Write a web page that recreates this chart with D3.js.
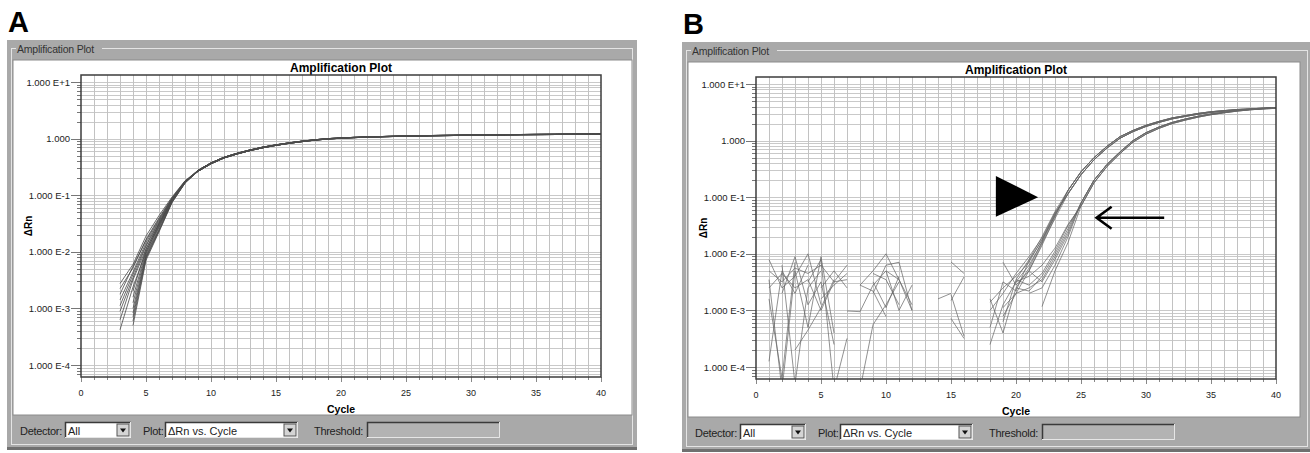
<!DOCTYPE html>
<html>
<head>
<meta charset="utf-8">
<script src="https://cdn.jsdelivr.net/npm/d3@7"></script>
<style>
body { margin: 0; background: #fff; }
svg { display: block; }
text { font-family: "Liberation Sans", Arial, sans-serif; }
</style>
</head>
<body>
<script>
const width = 1310, height = 453;

// axes
const cycleLimits = [0, 40];
const yLimits = [6.15e-5, 13.3];
const cycleTicks = [0, 5, 10, 15, 20, 25, 30, 35, 40];
const decadeTicks = [1e-4, 1e-3, 1e-2, 1e-1, 1, 10];
const decadeLabels = ["1.000 E-4", "1.000 E-3", "1.000 E-2", "1.000 E-1", "1.000", "1.000 E+1"];

// panel A : early part of each curve (curves starting at cycle 3, cycles 3..8)
const aEarly3 = [
  [0.00275, 0.0060, 0.0190, 0.0437, 0.093, 0.180],
  [0.00224, 0.0052, 0.0166, 0.0398, 0.090, 0.178],
  [0.00178, 0.0056, 0.0158, 0.0380, 0.088, 0.176],
  [0.00141, 0.0044, 0.0145, 0.0363, 0.087, 0.175],
  [0.00112, 0.0040, 0.0132, 0.0347, 0.086, 0.174],
  [0.00089, 0.0035, 0.0126, 0.0331, 0.084, 0.172],
  [0.00063, 0.0032, 0.0112, 0.0316, 0.083, 0.171],
  [0.00042, 0.0024, 0.0100, 0.0302, 0.081, 0.170]
];
// curves starting at cycle 4 (cycles 4..8)
const aEarly4 = [
  [0.00204, 0.0112, 0.0316, 0.082, 0.170],
  [0.00158, 0.0100, 0.0295, 0.080, 0.169],
  [0.00126, 0.0093, 0.0282, 0.079, 0.168],
  [0.00100, 0.0087, 0.0269, 0.078, 0.167],
  [0.00083, 0.0083, 0.0251, 0.077, 0.166],
  [0.00071, 0.0079, 0.0240, 0.076, 0.165],
  [0.00060, 0.0076, 0.0234, 0.075, 0.164],
  [0.00050, 0.0071, 0.0224, 0.074, 0.163]
];
// plateau, cycles 9..40
const aTail1 = [0.275, 0.372, 0.468, 0.55, 0.63, 0.708, 0.776, 0.841, 0.902, 0.955, 1.0, 1.028, 1.052, 1.072, 1.086, 1.102,
  1.114, 1.125, 1.135, 1.143, 1.151, 1.159, 1.164, 1.172, 1.178, 1.183, 1.189, 1.194, 1.2, 1.202, 1.208, 1.211];
const aTail2 = [0.265, 0.36, 0.455, 0.535, 0.615, 0.69, 0.76, 0.825, 0.885, 0.94, 0.985, 1.015, 1.04, 1.06, 1.075, 1.09,
  1.10, 1.11, 1.12, 1.13, 1.138, 1.146, 1.152, 1.158, 1.164, 1.17, 1.175, 1.18, 1.185, 1.19, 1.195, 1.198];

// panel B : noisy baseline pieces (first cycle, values)
const bNoise = [
  {from: 1, v: [0.0050, 0.0032, 0.0056, 0.0045, 0.0063, 0.0032, 0.0035]},
  {from: 1, v: [0.0079, 0.0025, 0.0040, 0.0100, 0.00126]},
  {from: 1, v: [0.000126, 0.0050, 0.0020, 0.0063]},
  {from: 1, v: [0.0035, 0.00004, 0.0050, 0.0005, 0.0089, 0.0004]},
  {from: 1, v: [0.0025, 0.0045, 0.0025, 0.0035, 0.0010, 0.0032, 0.0063]},
  {from: 2, v: [0.0063, 0.00005, 0.0025, 0.0050]},
  {from: 1, v: [0.0016, 0.000063, 0.0071]},
  {from: 3, v: [0.0002, 0.00045, 0.00112, 0.0035]},
  {from: 4, v: [0.0032, 0.0079, 0.00004, 0.00032]},
  {from: 5, v: [0.0025, 0.0050, 0.0025]},
  {from: 5, v: [0.0016, 0.0028, 0.0045]},
  {from: 2, v: [0.0020, 0.0089, 0.00126, 0.0032, 0.00025]},
  {from: 7, v: [0.00098, 0.00095, 0.0028, 0.0050, 0.0035, 0.0010]},
  {from: 8, v: [0.00004, 0.00056, 0.00126, 0.0032]},
  {from: 8, v: [0.0028, 0.0050, 0.0100, 0.0035, 0.00126]},
  {from: 9, v: [0.0020, 0.0063, 0.0071, 0.0010]},
  {from: 9, v: [0.0032, 0.00112, 0.0040]},
  {from: 9, v: [0.0045, 0.0035, 0.00126]},
  {from: 10, v: [0.0050, 0.0010, 0.0028]},
  {from: 8, v: [0.0028, 0.0022, 0.00078]},
  {from: 14, v: [0.0016, 0.0020]},
  {from: 15, v: [0.0072, 0.0045]},
  {from: 15, v: [0.0015, 0.0039]},
  {from: 15, v: [0.0019, 0.00035]},
  {from: 15, v: [0.00072, 0.00032]}
];
// early bundle (arrowhead), up to cycle 23
const bRise1 = [
  {from: 19, v: [0.0071, 0.0028, 0.0050, 0.0141, 0.045]},
  {from: 18, v: [0.0014, 0.0025, 0.0040, 0.0071, 0.018, 0.050]},
  {from: 18, v: [0.00025, 0.00126, 0.0032, 0.0063, 0.0158, 0.048]},
  {from: 18, v: [0.0016, 0.0004, 0.0025, 0.0056, 0.0166, 0.052]},
  {from: 19, v: [0.00063, 0.0035, 0.0079, 0.020, 0.056]},
  {from: 18, v: [0.0010, 0.0020, 0.0045, 0.0089, 0.019, 0.054]},
  {from: 18, v: [0.0005, 0.0032, 0.0022, 0.0076, 0.0174, 0.047]},
  {from: 19, v: [0.00112, 0.0020, 0.0050, 0.0151, 0.042]}
];
// late bundle (arrow), up to cycle 24
const bRise2 = [
  {from: 20, v: [0.0025, 0.0022, 0.0040, 0.0100, 0.028]},
  {from: 20, v: [0.0035, 0.0028, 0.0045, 0.0112, 0.0316]},
  {from: 21, v: [0.0050, 0.0032, 0.0079, 0.0224]},
  {from: 22, v: [0.00117, 0.0050, 0.0158]},
  {from: 19, v: [0.00079, 0.0020, 0.0025, 0.0035, 0.0089, 0.025]},
  {from: 20, v: [0.0032, 0.0040, 0.0063, 0.0126, 0.033]},
  {from: 21, v: [0.0020, 0.0025, 0.0063, 0.020]}
];
// cycles 24..40
const bTail1a = [0.132, 0.282, 0.501, 0.794, 1.175, 1.514, 1.862, 2.188, 2.512, 2.754, 3.02, 3.236, 3.388, 3.548, 3.631, 3.758, 3.846];
const bTail1b = [0.115, 0.25, 0.46, 0.74, 1.1, 1.44, 1.78, 2.1, 2.42, 2.67, 2.93, 3.15, 3.32, 3.48, 3.58, 3.7, 3.8];
// cycles 25..40
const bTail2a = [0.079, 0.2, 0.38, 0.631, 1.0, 1.38, 1.738, 2.089, 2.399, 2.692, 2.951, 3.162, 3.388, 3.548, 3.673, 3.758];
const bTail2b = [0.07, 0.18, 0.35, 0.59, 0.94, 1.3, 1.65, 2.0, 2.3, 2.6, 2.87, 3.1, 3.32, 3.5, 3.63, 3.72];

const toPoints = c => c.v.map((d, i) => [c.from + i, d]);

const aCurves = [
  ...aEarly3.map((v, i) => ({from: 3, v: v.concat(i % 2 ? aTail2 : aTail1)})),
  ...aEarly4.map((v, i) => ({from: 4, v: v.concat(i % 2 ? aTail1 : aTail2)}))
];
const bCurves = [
  ...bNoise,
  ...bRise1.map((c, i) => ({from: c.from, v: c.v.concat(i % 2 ? bTail1b : bTail1a)})),
  ...bRise2.map((c, i) => ({from: c.from, v: c.v.concat(i % 2 ? bTail2b : bTail2a)}))
];

const svg = d3.select("body").append("svg")
  .attr("width", width)
  .attr("height", height);

function sunken(g, x, y, w, h, fill) {
  g.append("rect").attr("x", x).attr("y", y).attr("width", w).attr("height", h).attr("fill", fill);
  g.append("path").attr("d", `M${x + 0.5},${y + h}V${y + 0.5}H${x + w}`)
    .attr("fill", "none").attr("stroke", "#3a3a3a").attr("stroke-width", 1.5);
  g.append("path").attr("d", `M${x + w - 0.5},${y}V${y + h - 0.5}H${x}`)
    .attr("fill", "none").attr("stroke", "#e6e6e6");
}

function dropdown(g, x, y, w, label) {
  sunken(g, x, y, w, 16, "#fff");
  g.append("text").attr("x", x + 3).attr("y", y + 12.5).attr("font-size", 11).attr("fill", "#222").text(label);
  const bx = x + w - 14;
  g.append("rect").attr("x", bx).attr("y", y + 2).attr("width", 12).attr("height", 12)
    .attr("fill", "#d4d4d4").attr("stroke", "#555");
  g.append("path").attr("d", `M${bx + 3},${y + 6.5}h6l-3,4z`).attr("fill", "#111");
}

function drawPanel(p) {
  const {ox, oy, fw, inR, letter, curves, id, color, lw} = p;
  const g = svg.append("g");

  g.append("text").attr("x", ox + 1).attr("y", oy - 8)
    .attr("font-size", 29).attr("font-weight", "bold").attr("fill", "#000").text(letter);

  // window frame
  g.append("rect").attr("x", ox).attr("y", oy).attr("width", fw).attr("height", 410).attr("fill", "#a9a9a9");
  g.append("rect").attr("x", ox).attr("y", oy + 407).attr("width", fw).attr("height", 3).attr("fill", "#707070");
  g.append("rect").attr("x", ox + 4.5).attr("y", oy + 8.5).attr("width", fw - 9).attr("height", 396)
    .attr("fill", "none").attr("stroke", "#e4e4e4");
  g.append("rect").attr("x", ox + 9).attr("y", oy + 2).attr("width", 86).attr("height", 14).attr("fill", "#a9a9a9");
  g.append("text").attr("x", ox + 10).attr("y", oy + 12.5).attr("font-size", 10.5).attr("fill", "#333")
    .attr("letter-spacing", -0.2).text("Amplification Plot");
  g.append("rect").attr("x", ox + 6).attr("y", oy + 20).attr("width", fw - 6 - inR).attr("height", 355)
    .attr("fill", "#fff").attr("stroke", "#8c8c8c");

  const x = d3.scaleLinear().domain(cycleLimits).range([ox + 74, ox + 594]);
  const y = d3.scaleLog().domain(yLimits).range([oy + 337, oy + 35]);
  const [x0, x1] = x.range();
  const [y0, y1] = y.range();

  // grid
  const minor = [];
  for (let k = -5; k <= 1; k++) for (let m = 1; m <= 9; m++) {
    const v = m * Math.pow(10, k);
    if (v > yLimits[0] && v < yLimits[1]) minor.push(v);
  }
  g.append("g").selectAll("line").data(minor).join("line")
    .attr("x1", x0).attr("x2", x1)
    .attr("y1", d => Math.round(y(d)) + 0.5).attr("y2", d => Math.round(y(d)) + 0.5)
    .attr("stroke", "#c9c9c9");
  g.append("g").selectAll("line").data(d3.range(1, 40)).join("line")
    .attr("x1", d => Math.round(x(d)) + 0.5).attr("x2", d => Math.round(x(d)) + 0.5)
    .attr("y1", y1).attr("y2", y0)
    .attr("stroke", "#c2c2c2");

  // ticks
  g.append("g").selectAll("line").data(minor).join("line")
    .attr("x1", x0 - 4).attr("x2", x0)
    .attr("y1", d => Math.round(y(d)) + 0.5).attr("y2", d => Math.round(y(d)) + 0.5)
    .attr("stroke", "#777");
  g.append("g").selectAll("line").data(decadeTicks).join("line")
    .attr("x1", x0 - 10).attr("x2", x0)
    .attr("y1", d => Math.round(y(d)) + 0.5).attr("y2", d => Math.round(y(d)) + 0.5)
    .attr("stroke", "#777");
  g.append("g").selectAll("text").data(decadeTicks).join("text")
    .attr("x", x0 - 11).attr("y", d => y(d) + 3.5)
    .attr("text-anchor", "end").attr("font-size", 9.5).attr("fill", "#222")
    .text((d, i) => decadeLabels[i]);
  g.append("g").selectAll("line").data(d3.range(0, 41)).join("line")
    .attr("x1", d => Math.round(x(d)) + 0.5).attr("x2", d => Math.round(x(d)) + 0.5)
    .attr("y1", y0).attr("y2", d => y0 + (d % 5 ? 3 : 5))
    .attr("stroke", "#888");
  g.append("g").selectAll("text").data(cycleTicks).join("text")
    .attr("x", d => x(d)).attr("y", y0 + 19)
    .attr("text-anchor", "middle").attr("font-size", 9).attr("fill", "#222")
    .text(d => d);

  g.append("text").attr("x", (x0 + x1) / 2).attr("y", y0 + 36)
    .attr("text-anchor", "middle").attr("font-size", 10.5).attr("font-weight", "bold").text("Cycle");
  g.append("text").attr("x", (x0 + x1) / 2).attr("y", y1 - 3)
    .attr("text-anchor", "middle").attr("font-size", 12).attr("font-weight", "bold").text("Amplification Plot");
  g.append("text").attr("transform", `translate(${ox + 25},${(y0 + y1) / 2}) rotate(-90)`)
    .attr("text-anchor", "middle").attr("font-size", 10).attr("font-weight", "bold").text("\u0394Rn");

  // curves
  g.append("clipPath").attr("id", id).append("rect")
    .attr("x", x0).attr("y", y1).attr("width", x1 - x0).attr("height", y0 - y1);
  const line = d3.line().x(d => x(d[0])).y(d => y(d[1]));
  g.append("g").attr("clip-path", `url(#${id})`)
    .selectAll("path").data(curves).join("path")
    .attr("d", c => line(toPoints(c)))
    .attr("fill", "none").attr("stroke", color).attr("stroke-width", lw).attr("stroke-opacity", 0.9);

  g.append("rect").attr("x", x0).attr("y", y1).attr("width", x1 - x0).attr("height", y0 - y1)
    .attr("fill", "none").attr("stroke", "#3c3c3c").attr("stroke-width", 1.5);

  // control bar
  const cy = oy + 382;
  const t = (tx, s) => g.append("text").attr("x", ox + tx).attr("y", cy + 12.5)
    .attr("font-size", 11).attr("fill", "#222").attr("letter-spacing", -0.3).text(s);
  t(13, "Detector:");
  dropdown(g, ox + 58, cy, 66, "All");
  t(136, "Plot:");
  dropdown(g, ox + 158, cy, 133, "\u0394Rn vs. Cycle");
  t(307, "Threshold:");
  sunken(g, ox + 360, cy, 133, 16, "#b3b3b3");

  return {g, x, y};
}

drawPanel({ox: 7, oy: 40, fw: 630, inR: 5, letter: "A", curves: aCurves, id: "clipA", color: "#4a4a4a", lw: 0.9});
const pb = drawPanel({ox: 682, oy: 42, fw: 630, inR: 12, letter: "B", curves: bCurves, id: "clipB", color: "#666", lw: 0.8});

// annotations in panel B (data coordinates)
const headPts = [[18.45, 0.238], [18.45, 0.045], [21.7, 0.10]];
const arrowTip = [26.2, 0.0434], arrowEnd = [31.4, 0.0434];
pb.g.append("path")
  .attr("d", "M" + headPts.map(d => [pb.x(d[0]), pb.y(d[1])].join(",")).join("L") + "Z")
  .attr("fill", "#000");
const ax = pb.x(arrowTip[0]), ay = pb.y(arrowTip[1]);
pb.g.append("path")
  .attr("d", `M${ax},${ay}H${pb.x(arrowEnd[0])}M${ax + 15},${ay - 11}L${ax},${ay}L${ax + 15},${ay + 11}`)
  .attr("fill", "none").attr("stroke", "#000").attr("stroke-width", 2.6);
</script>
</body>
</html>
